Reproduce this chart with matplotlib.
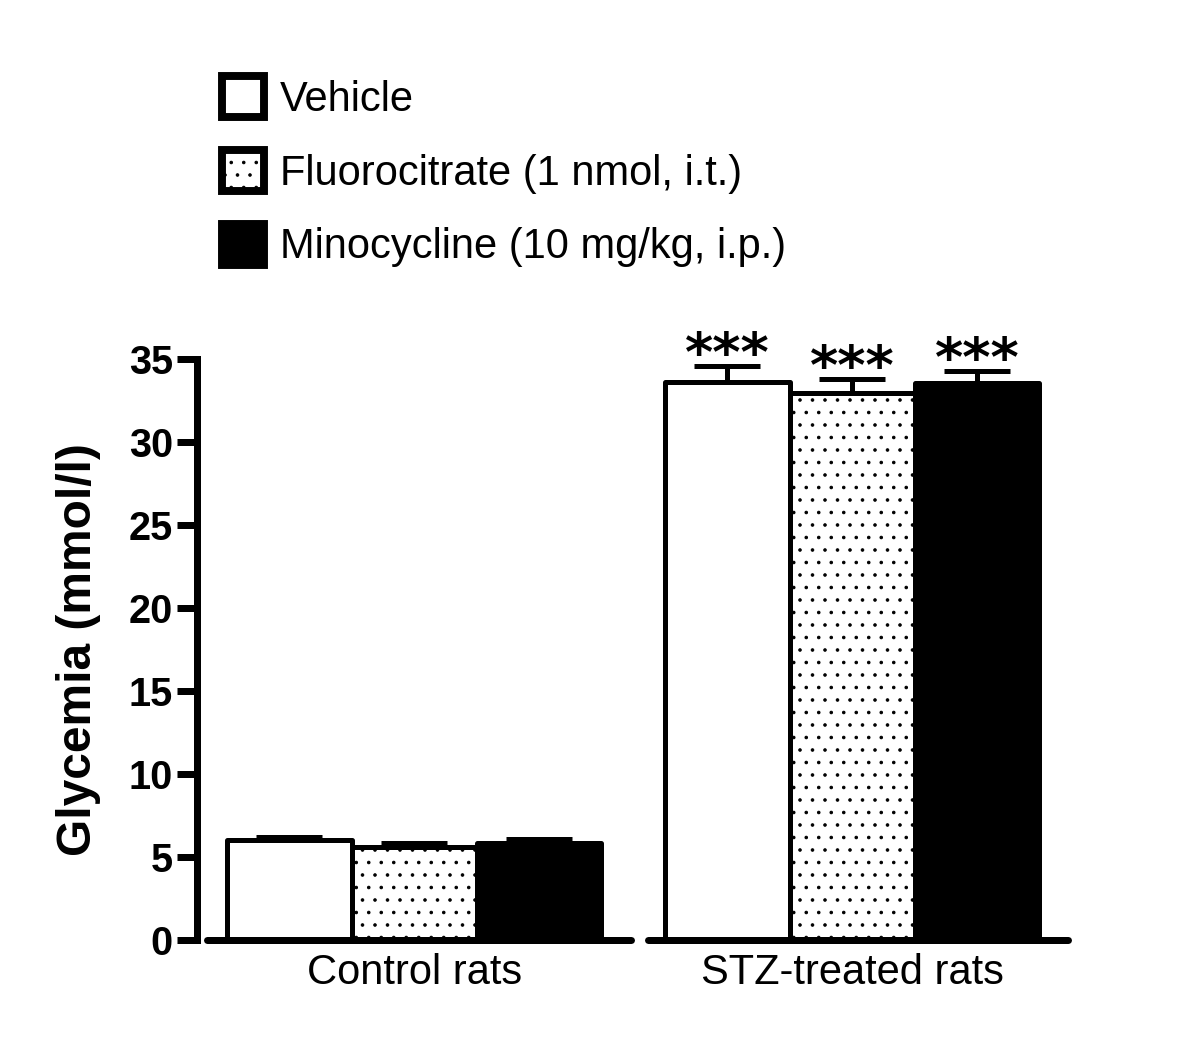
import numpy as np
import matplotlib.pyplot as plt
from matplotlib.patches import Patch

plt.rcParams['font.family'] = ['Liberation Sans', 'DejaVu Sans']
plt.rcParams['hatch.linewidth'] = 0.5

# data
groups = ['Control rats', 'STZ-treated rats']
treatments = ['Vehicle', 'Fluorocitrate (1 nmol, i.t.)', 'Minocycline (10 mg/kg, i.p.)']
vehicle_mean = [6.0, 33.6]
vehicle_sem = [0.2, 0.95]
fluoro_mean = [5.6, 32.9]
fluoro_sem = [0.25, 0.85]
mino_mean = [5.85, 33.5]
mino_sem = [0.2, 0.75]
signif = ['', '***']

means = [vehicle_mean, fluoro_mean, mino_mean]
sems = [vehicle_sem, fluoro_sem, mino_sem]
faces = ['white', 'white', 'black']
hatches = [None, '..', None]

fig = plt.figure(figsize=(8, 6.96), dpi=150)
ax = fig.add_axes([207 / 1200, 104 / 1044, 861 / 1200, 581.5 / 1044])

x = np.arange(len(groups))
w = 0.285
lw = 2.4

for i in range(3):
    pos = x + (i - 1) * w
    ax.bar(pos, means[i], w, color=faces[i], edgecolor='black', linewidth=lw,
           hatch=hatches[i], zorder=2, joinstyle='round')
    ax.errorbar(pos, means[i], yerr=[np.zeros(len(groups)), sems[i]], fmt='none',
                ecolor='black', elinewidth=lw, capsize=16, capthick=lw, zorder=1)
    for j in range(len(groups)):
        if signif[j]:
            ax.annotate(signif[j], (pos[j], means[i][j] + sems[i][j]),
                        xytext=(0, -2.5), textcoords='offset points',
                        ha='center', va='baseline', fontsize=26, fontweight='bold',
                        family='DejaVu Sans')

ax.set_xlim(-0.473, 1.493)
ax.set_ylim(0, 35)

# broken x axis
ax.spines['bottom'].set_visible(False)
ax.spines['top'].set_visible(False)
ax.spines['right'].set_visible(False)
for seg in [(-0.473, 0.495), (0.535, 1.493)]:
    ax.plot(seg, [0, 0], color='black', linewidth=3.36, solid_capstyle='round',
            clip_on=False, zorder=3)

ax.spines['left'].set_position(('outward', 4.8))
ax.spines['left'].set_linewidth(3.36)
ax.spines['left'].set_bounds(0, 35)
ax.set_yticks(range(0, 36, 5))
ax.tick_params(axis='y', length=9.6, width=3.36, pad=2, labelsize=19)
for t in ax.get_yticklabels():
    t.set_fontweight('bold')

ax.set_xticks(x)
ax.set_xticklabels(groups, fontsize=20)
ax.tick_params(axis='x', length=0, pad=6)

ax.set_ylabel('Glycemia (mmol/l)', fontsize=23, fontweight='bold')
ax.yaxis.set_label_coords(-0.123, 0.5)

handles = [Patch(facecolor=faces[i], edgecolor='black', hatch=hatches[i], linewidth=3.8)
           for i in range(3)]
fig.legend(handles, treatments, loc='upper left', bbox_to_anchor=(222 / 1200, 1 - 76 / 1044),
           frameon=False, fontsize=20, handlelength=1.0, handleheight=1.15,
           handletextpad=0.38, labelspacing=0.72, borderpad=0, borderaxespad=0)

fig.savefig('out.png', dpi=150)
